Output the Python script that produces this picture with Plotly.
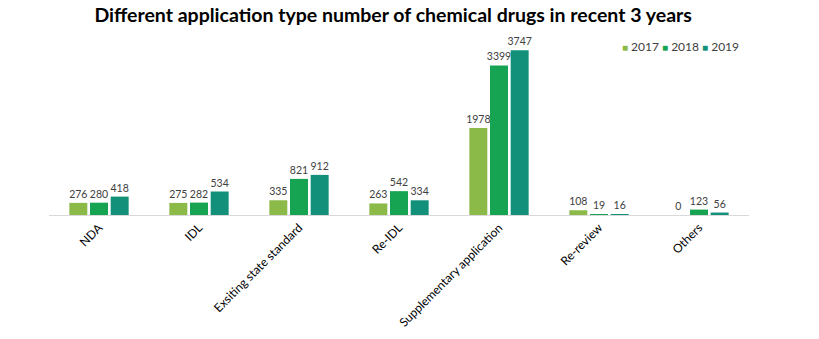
import plotly.graph_objects as go

categories = ["NDA", "IDL", "Exsiting state standard", "Re-IDL",
              "Supplementary application", "Re-review", "Others"]
years = ["2017", "2018", "2019"]
values_2017 = [276, 275, 335, 263, 1978, 108, 0]
values_2018 = [280, 282, 821, 542, 3399, 19, 123]
values_2019 = [418, 534, 912, 334, 3747, 16, 56]
colors = ["#8cba48", "#16a452", "#12907a"]

series = [values_2017, values_2018, values_2019]

fig = go.Figure()
for name, vals, col in zip(years, series, colors):
    fig.add_trace(go.Bar(
        x=categories, y=vals, name=name,
        marker=dict(color=col, line=dict(width=0)),
        text=[str(v) for v in vals], textposition="outside",
        textfont=dict(family="Lato", size=10.5, color="#404040"),
        constraintext="none",
        cliponaxis=False,
    ))

legend_text = "&nbsp;".join(
    f"<span style='color:{c};font-size:10px'>■</span> {y}" for y, c in zip(years, colors)
)

fig.update_layout(
    width=819, height=339,
    margin=dict(l=49, r=70, t=39, b=124, autoexpand=False),
    paper_bgcolor="white", plot_bgcolor="white",
    barmode="group", bargap=0.38, bargroupgap=0.13,
    title=dict(text="<b>Different application type number of chemical drugs in recent 3 years</b>",
               x=0.48, xanchor="center", y=0.955, yanchor="middle",
               font=dict(family="Lato", size=19.5, color="#000000")),
    showlegend=False,
    annotations=[dict(text=legend_text, x=0.816, y=0.96, xref="paper", yref="paper",
                      xanchor="left", yanchor="middle", showarrow=False,
                      font=dict(family="Lato", size=12, color="#404040"))],
    xaxis=dict(showline=True, linecolor="#d9d9d9", linewidth=1, ticks="",
               tickangle=-45, tickfont=dict(family="Lato", size=12, color="#000000"),
               showgrid=False),
    yaxis=dict(range=[0, 4000], visible=False, showgrid=False, zeroline=False),
)

fig.write_html("out.html")
